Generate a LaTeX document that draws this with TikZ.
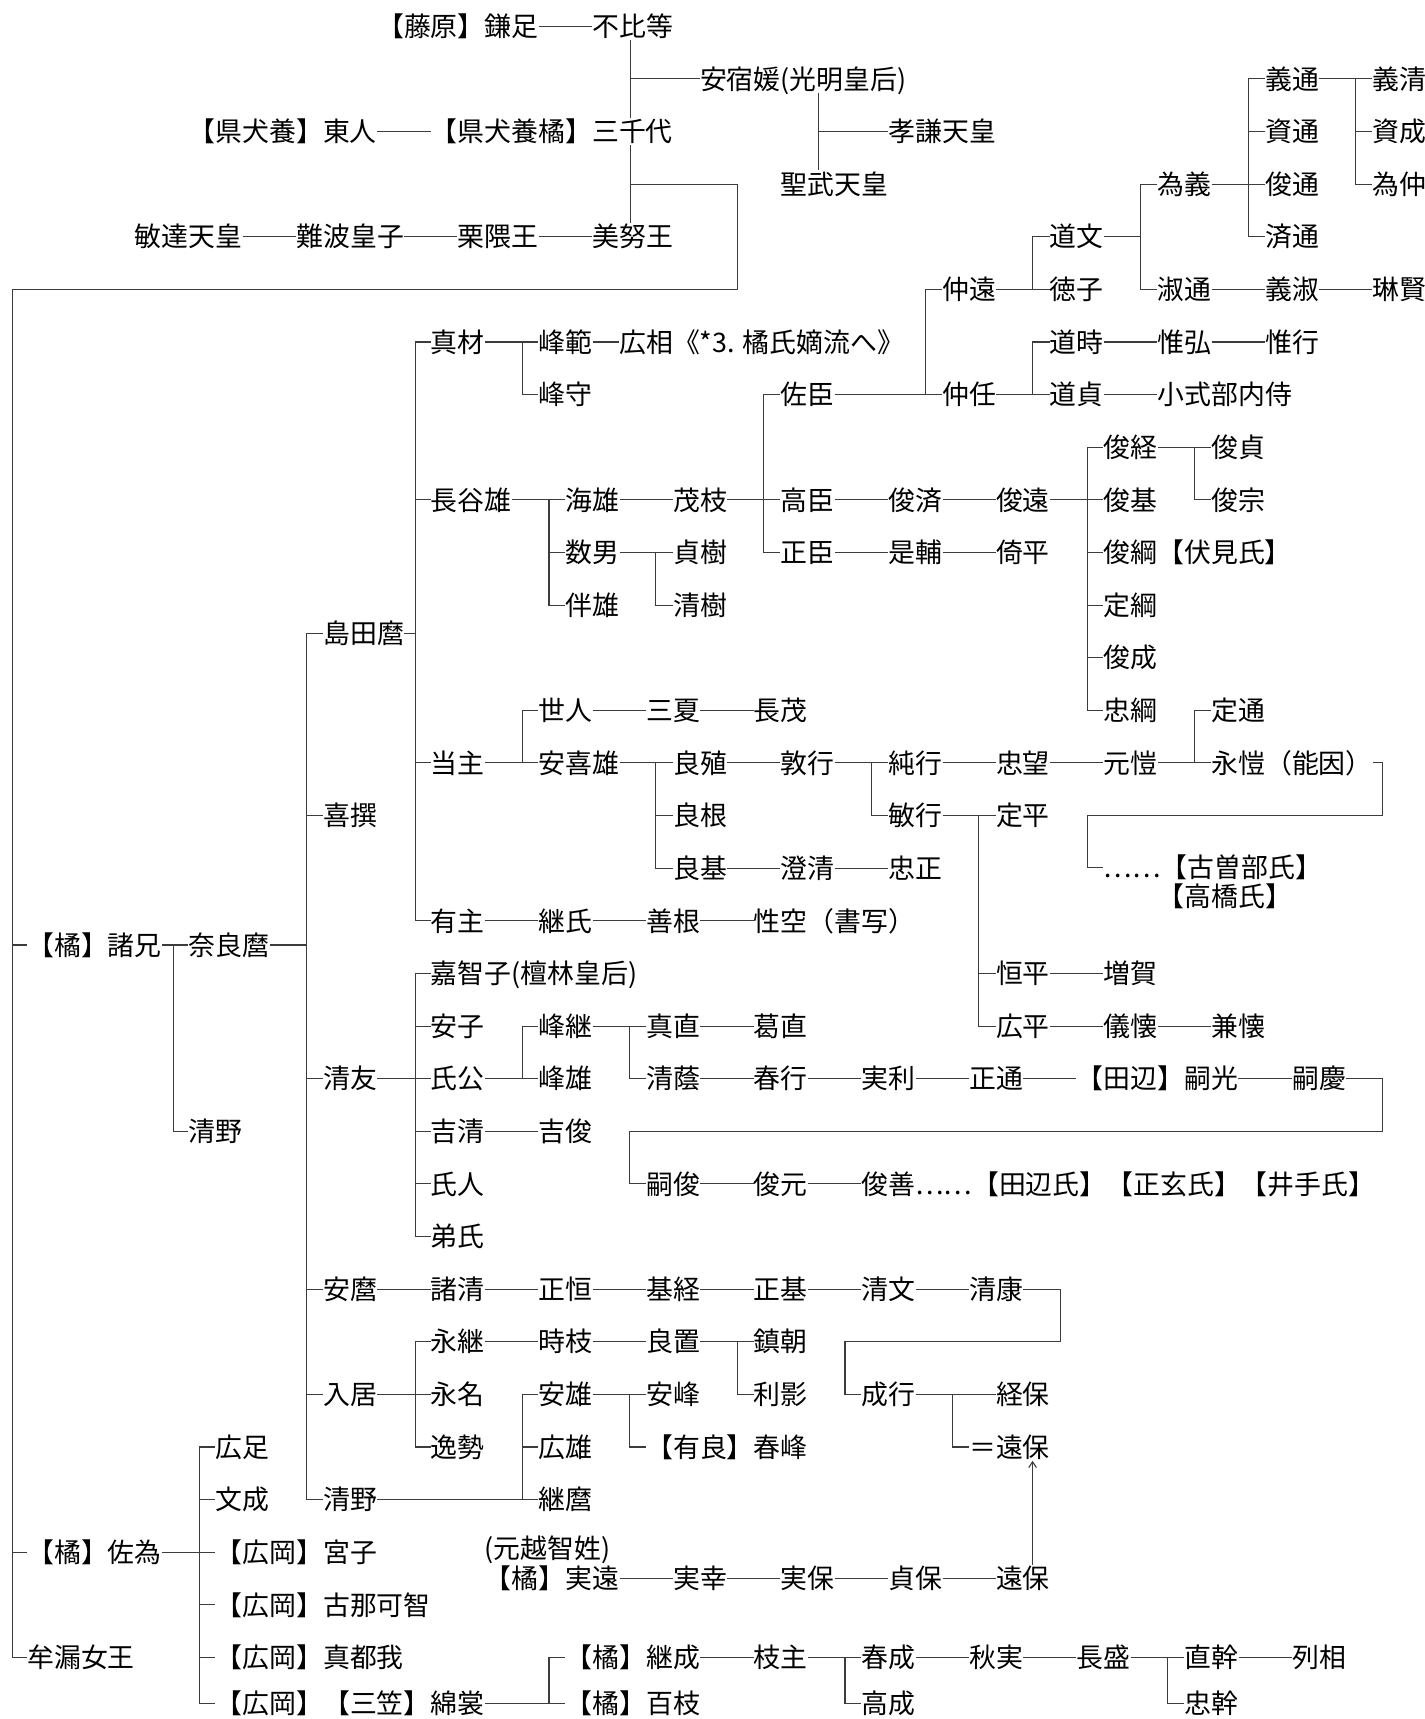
\documentclass[tikz,border=0pt]{standalone}
\usepackage{fontspec}
\newfontfamily\kanji{Noto Sans CJK JP}
\usetikzlibrary{arrows.meta}
\definecolor{kinline}{HTML}{3C3C3C}

\begin{document}
\begin{tikzpicture}[x=0.491cm,y=-0.96cm,who/.style={anchor=west,inner sep=0pt,font=\kanji\fontsize{13.95pt}{16pt}\selectfont,text height=12.3pt,text depth=1.7pt},kin/.style={kinline,line width=.55pt}]
 \path[fill=white,use as bounding box] (0,-0.5) rectangle (52.95,32.17);
 \foreach \n/\c/\r/\t in {kamatari/14/0/【藤原】鎌足,fuhito/22/0/不比等,asukabe/26/1/安宿媛(光明皇后),azumahito/7/2/【県犬養】東人,michiyo/16/2/【県犬養橘】三千代,koken/33/2/孝謙天皇,shomu/29/3/聖武天皇,bidatsu/5/4/敏達天皇,naniwa/11/4/難波皇子,kurikuma/17/4/栗隈王,minu/22/4/美努王}{\node[who] (\n) at (\c,\r) {\t};}
 \foreach \n/\c/\r/\t in {yoshimichi/47/1/義通,yoshikiyo/51/1/義清,sukemichi/47/2/資通,sukenari/51/2/資成,tameyoshi/43/3/為義,toshimichi/47/3/俊通,tamenaka/51/3/為仲,michifumi/39/4/道文,narimichi/47/4/済通,nakato/35/5/仲遠,tokushi/39/5/徳子,shukutsu/43/5/淑通,yoshitoshi/47/5/義淑,rinken/51/5/琳賢,michitoki/39/6/道時,korehiro/43/6/惟弘,koreyuki/47/6/惟行,nakatada/35/7/仲任,michisada/39/7/道貞,koshikibu/43/7/小式部内侍}{\node[who] (\n) at (\c,\r) {\t};}
 \foreach \n/\c/\r/\t in {mazai/16/6/真材,minenori/20/6/峰範,hiromi/23/6/広相《*3. 橘氏嫡流へ》,minemori/20/7/峰守,sukeomi/29/7/佐臣,toshitsune/41/8/俊経,toshisada/45/8/俊貞,haseo/16/9/長谷雄,umio/21/9/海雄,shigee/25/9/茂枝,takaomi/29/9/高臣,toshinari/33/9/俊済,toshito/37/9/俊遠,toshimoto/41/9/俊基,toshimune/45/9/俊宗,kazuo/21/10/数男,sadaki/25/10/貞樹,masaomi/29/10/正臣,koresuke/33/10/是輔,yorihira/37/10/倚平,toshitsuna/41/10/俊綱【伏見氏】,tomoo/21/11/伴雄,kiyoki/25/11/清樹,sadatsuna/41/11/定綱,shimadamaro/12/11.54/島田麿,toshishige/41/12/俊成}{\node[who] (\n) at (\c,\r) {\t};}
 \foreach \n/\c/\r/\t in {yohito/20/13/世人,minatsu/24/13/三夏,nagashige/28/13/長茂,tadatsuna/41/13/忠綱,sadamichi/45/13/定通,masanushi/16/14/当主,akio/20/14/安喜雄,yoshishige/25/14/良殖,atsuyuki/29/14/敦行,sumiyuki/33/14/純行,tadamochi/37/14/忠望,motoyasu/41/14/元愷,nagayasu/45/14/永愷（能因）,kisen/12/15/喜撰,yoshine/25/15/良根,toshiyuki/33/15/敏行,sadahira/37/15/定平,yoshimoto/25/16/良基,sumikiyo/29/16/澄清,tadamasa/33/16/忠正,kosobe/41/15.98/……【古曽部氏】,takahashi/43/16.54/【高橋氏】,arinushi/16/17/有主,tsuguuji/20/17/継氏,zenkon/24/17/善根,shoku/28/17/性空（書写）}{\node[who] (\n) at (\c,\r) {\t};}
 \foreach \n/\c/\r/\t in {moroe/1/17.46/【橘】諸兄,naramaro/7/17.46/奈良麿,kachiko/16/18/嘉智子(檀林皇后),tsunehira/37/18/恒平,zoga/41/18/増賀,yasuko/16/19/安子,minetsugu/20/19/峰継,manao/24/19/真直,kuzunao/28/19/葛直,hirohira/37/19/広平,noriyasu/41/19/儀懐,kaneyasu/45/19/兼懐,kiyotomo/12/20/清友,ujikimi/16/20/氏公,mineo/20/20/峰雄,kiyokage/24/20/清蔭,haruyuki/28/20/春行,saneto/32/20/実利,masamichi/36/20/正通,tsugumitsu/40/20/【田辺】嗣光,tsuguyoshi/48/20/嗣慶,kiyonoA/7/21/清野,yoshikiyoB/16/21/吉清,yoshitoshiB/20/21/吉俊,ujihito/16/22/氏人,tsugutoshi/24/22/嗣俊,toshimotoB/28/22/俊元,toshiyoshi/32/22/俊善……【田辺氏】【正玄氏】【井手氏】,otouji/16/23/弟氏}{\node[who] (\n) at (\c,\r) {\t};}
 \foreach \n/\c/\r/\t in {yasumaro/12/24/安麿,morokiyo/16/24/諸清,masatsune/20/24/正恒,mototsune/24/24/基経,masamoto/28/24/正基,kiyofumi/32/24/清文,kiyoyasu/36/24/清康,nagatsugu/16/25/永継,tokie/20/25/時枝,yoshioki/24/25/良置,shizutomo/28/25/鎮朝,irii/12/26/入居,nagana/16/26/永名,yasuo/20/26/安雄,yasumine/24/26/安峰,toshikage/28/26/利影,narayuki/32/26/成行,tsuneyasu/37/26/経保,hirotari/8/27/広足,hayanari/16/27/逸勢,hiroo/20/27/広雄,harumine/24/27/【有良】春峰,toyasuA/36/27/＝遠保,fuminari/8/28/文成,kiyonoB/12/28/清野,tsugumaro/20/28/継麿}{\node[who] (\n) at (\c,\r) {\t};}
 \foreach \n/\c/\r/\t in {sai/1/29/【橘】佐為,miyako/8/29/【広岡】宮子,ochi/18/28.92/(元越智姓),sanetoo/18/29.5/【橘】実遠,sanesachi/25/29.5/実幸,saneyasu/29/29.5/実保,sadayasu/33/29.5/貞保,toyasuB/37/29.5/遠保,konakachi/8/30/【広岡】古那可智,muro/1/31/牟漏女王,matsuga/8/31/【広岡】真都我,tsugunari/21/31/【橘】継成,edanushi/28/31/枝主,harunari/32/31/春成,akizane/36/31/秋実,nagamori/40/31/長盛,naomoto/44/31/直幹,tsuratomo/48/31/列相,watamo/8/31.88/【広岡】【三笠】綿裳,momoe/21/31.88/【橘】百枝,takanari/32/31.88/高成,tadamoto/44/31.88/忠幹}{\node[who] (\n) at (\c,\r) {\t};}
 \foreach \a/\b in {kamatari/fuhito,azumahito/michiyo,bidatsu/naniwa,naniwa/kurikuma,kurikuma/minu,minenori/hiromi,umio/shigee,takaomi/toshinari,toshinari/toshito,masaomi/koresuke,koresuke/yorihira,shukutsu/yoshitoshi,yoshitoshi/rinken,michitoki/korehiro,korehiro/koreyuki,michisada/koshikibu,yohito/minatsu,minatsu/nagashige,yoshishige/atsuyuki,sumiyuki/tadamochi,tadamochi/motoyasu,yoshimoto/sumikiyo,sumikiyo/tadamasa,tsunehira/zoga,hirohira/noriyasu,noriyasu/kaneyasu,arinushi/tsuguuji,tsuguuji/zenkon,zenkon/shoku,manao/kuzunao,kiyokage/haruyuki,haruyuki/saneto,saneto/masamichi,masamichi/tsugumitsu,tsugumitsu/tsuguyoshi,yoshikiyoB/yoshitoshiB,tsugutoshi/toshimotoB,toshimotoB/toshiyoshi,yasumaro/morokiyo,morokiyo/masatsune,masatsune/mototsune,mototsune/masamoto,masamoto/kiyofumi,kiyofumi/kiyoyasu,nagatsugu/tokie,tokie/yoshioki,sanetoo/sanesachi,sanesachi/saneyasu,saneyasu/sadayasu,sadayasu/toyasuB,tsugunari/edanushi,harunari/akizane,akizane/nagamori,naomoto/tsuratomo}{\draw[kin] (\a.east) -- (\b.west);}
 \foreach \p/\x/\k in {moroe/6.44/{naramaro,kiyonoA},naramaro/11.4/{shimadamaro,kisen,kiyotomo,yasumaro,irii,kiyonoB},shimadamaro/15.44/{mazai,haseo,masanushi,arinushi},mazai/19.4/{minenori,minemori},haseo/20.4/{umio,kazuo,tomoo},kazuo/24.37/{sadaki,kiyoki},shigee/28.37/{sukeomi,takaomi,masaomi},sukeomi/34.38/{nakato,nakatada},nakato/38.37/{michifumi,tokushi},nakatada/38.37/{michitoki,michisada},michifumi/42.37/{tameyoshi,shukutsu},tameyoshi/46.4/{yoshimichi,sukemichi,toshimichi,narimichi},yoshimichi/50.37/{yoshikiyo,sukenari,tamenaka},toshito/40.4/{toshitsune,toshimoto,toshitsuna,sadatsuna,toshishige,tadatsuna},toshitsune/44.37/{toshisada,toshimune},masanushi/19.4/{yohito,akio},akio/24.37/{yoshishige,yoshine,yoshimoto},atsuyuki/32.38/{sumiyuki,toshiyuki},motoyasu/44.37/{sadamichi,nagayasu},toshiyuki/36.35/{sadahira,tsunehira,hirohira},kiyotomo/15.44/{kachiko,yasuko,ujikimi,yoshikiyoB,ujihito,otouji},ujikimi/19.4/{minetsugu,mineo},minetsugu/23.4/{manao,kiyokage},irii/15.44/{nagatsugu,nagana,hayanari},yoshioki/27.4/{shizutomo,toshikage},kiyonoB/19.4/{yasuo,hiroo,tsugumaro},yasuo/23.4/{yasumine,harumine},narayuki/35.4/{tsuneyasu,toyasuA},sai/7.42/{hirotari,fuminari,miyako,konakachi,matsuga,watamo},watamo/20.4/{tsugunari,momoe},edanushi/31.4/{harunari,takanari},nagamori/43.4/{naomoto,tadamoto}}{\draw[kin] (\p.east) -- (\p.east -| \x,0); \foreach \c in \k {\draw[kin] (\p.east -| \x,0) |- (\c.west);}}
 \draw[kin] (fuhito.south -| 23.42,0) -- (michiyo.north -| 23.42,0);
 \draw[kin] (asukabe.west -| 23.42,0) -- (asukabe.west);
 \draw[kin] (asukabe.south -| 30.4,0) -- (shomu.north -| 30.4,0);
 \draw[kin] (koken.west -| 30.4,0) -- (koken.west);
 \draw[kin] (michiyo.south -| 23.42,0) -- (minu.north -| 23.42,0) |- (27.4,3) |- (0.45,5) |- (muro.west);
 \foreach \k in {moroe,sai}{\draw[kin] (\k.west -| 0.45,0) -- (\k.west);}
 \draw[kin] (nagayasu.east) -| (51.37,15) -| (kosobe.west -| 40.4,0) -- (kosobe.west);
 \draw[kin] (tsuguyoshi.east) -| (51.37,21) -| (tsugutoshi.west -| 23.4,0) -- (tsugutoshi.west);
 \draw[kin] (kiyoyasu.east) -| (39.4,25) -| (narayuki.west -| 31.4,0) -- (narayuki.west);
 \draw[kin,-{Straight Barb[length=3pt,width=4pt]}] (toyasuB.north -| 38.37,0) -- (toyasuA.south -| 38.37,0);
\end{tikzpicture}
\end{document}
